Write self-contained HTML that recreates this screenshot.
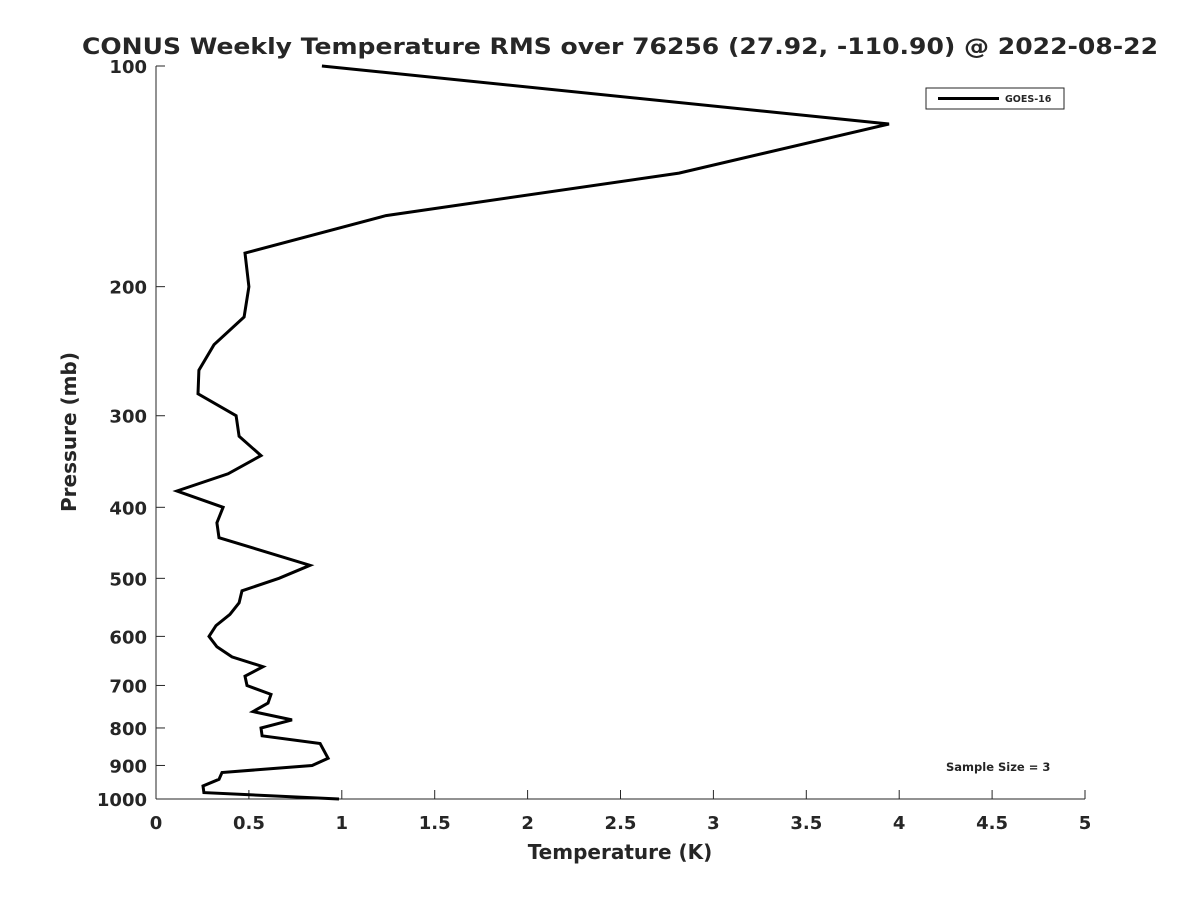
<!DOCTYPE html>
<html><head><meta charset="utf-8"><style>body{margin:0;background:#fff}svg{display:block}text{font-family:"DejaVu Sans","Liberation Sans",sans-serif;font-weight:bold;fill:#262626}</style></head>
<body>
<svg id="chart" width="1200" height="900" xmlns="http://www.w3.org/2000/svg">
<text x="620" y="54" text-anchor="middle" font-size="22" fill="#000" textLength="1076" lengthAdjust="spacingAndGlyphs">CONUS Weekly Temperature RMS over 76256 (27.92, -110.90) @ 2022-08-22</text>
<g id="axes"></g>
<polyline id="series" fill="none" stroke="#000" stroke-width="3" stroke-linejoin="miter"/>
<g>
<rect x="926" y="88" width="138" height="21" fill="#fff" stroke="#262626" stroke-width="1"/>
<line x1="938" y1="98.5" x2="999" y2="98.5" stroke="#000" stroke-width="3"/>
<text x="1005" y="102" font-size="9.5" fill="#000">GOES-16</text>
</g>
<text x="946" y="771" font-size="11.5" fill="#000">Sample Size = 3</text>
<text x="620" y="859" text-anchor="middle" font-size="20">Temperature (K)</text>
<text transform="translate(76,432) rotate(-90)" text-anchor="middle" font-size="20">Pressure (mb)</text>
</svg>
<script>
const pressures=[100,120,140,160,180,200,220,240,260,280,300,320,340,360,380,400,420,440,480,500,520,540,560,580,600,620,640,660,680,700,720,740,760,780,800,820,840,880,900,920,940,960,980,1000];
const rms=[0.893,3.945,2.815,1.238,0.479,0.50,0.474,0.312,0.231,0.226,0.431,0.447,0.565,0.388,0.113,0.361,0.328,0.339,0.829,0.662,0.463,0.447,0.398,0.323,0.285,0.328,0.409,0.576,0.479,0.49,0.619,0.603,0.522,0.732,0.565,0.571,0.883,0.926,0.84,0.355,0.339,0.253,0.258,0.985];
const xTicks=[0,0.5,1,1.5,2,2.5,3,3.5,4,4.5,5];
const xTickLabels=["0","0.5","1","1.5","2","2.5","3","3.5","4","4.5","5"];
const yTicks=[100,200,300,400,500,600,700,800,900,1000];
const yTickLabels=["100","200","300","400","500","600","700","800","900","1000"];
const X0=156,X1=1085,Y0=66,Y1=799;
const xs=v=>X0+(v-0)/(5-0)*(X1-X0);
const ys=p=>Y0+(Math.log10(p)-2)*(Y1-Y0);
const NS="http://www.w3.org/2000/svg";
const ax=document.getElementById('axes');
function mk(t,a){const e=document.createElementNS(NS,t);for(const k in a)e.setAttribute(k,a[k]);return e;}
let l=mk('line',{x1:X0,y1:Y0,x2:X0,y2:Y1,stroke:'#262626','stroke-width':1});


ax.appendChild(l);
l=mk('line',{x1:X0,y1:Y1,x2:X1,y2:Y1,stroke:'#262626','stroke-width':1});


ax.appendChild(l);
xTicks.forEach((v,i)=>{
 const t=mk('line',{x1:xs(v),y1:Y1,x2:xs(v),y2:Y1-9,stroke:'#262626','stroke-width':1});
 
 
 ax.appendChild(t);
 const tx=mk('text',{x:xs(v),y:Y1+30,'text-anchor':'middle','font-size':18});
 
 
 tx.textContent=xTickLabels[i];ax.appendChild(tx);
});
yTicks.forEach((v,i)=>{
 const t=mk('line',{x1:X0,y1:ys(v),x2:X0+9,y2:ys(v),stroke:'#262626','stroke-width':1});
 
 
 ax.appendChild(t);
 const tx=mk('text',{x:X0-9,y:ys(v)+7,'text-anchor':'end','font-size':18});
 
 
 tx.textContent=yTickLabels[i];ax.appendChild(tx);
});
document.getElementById('series').setAttribute('points',pressures.map((p,i)=>xs(rms[i]).toFixed(1)+','+ys(p).toFixed(1)).join(' '));
</script>
</body></html>
